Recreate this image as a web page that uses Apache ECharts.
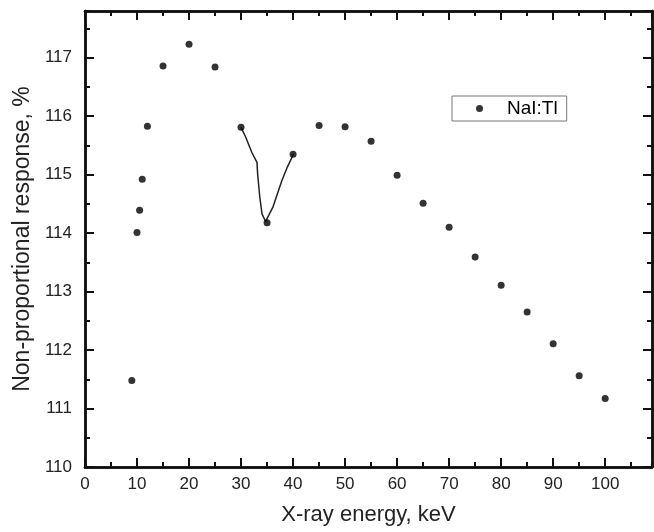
<!DOCTYPE html>
<html>
<head>
<meta charset="utf-8">
<script src="https://cdn.jsdelivr.net/npm/echarts@6/dist/echarts.min.js"></script>
<style>
  html, body { margin: 0; padding: 0; background: #fff; }
  #chart { width: 654px; height: 532px; }
</style>
</head>
<body>
<div id="chart"></div>
<script>
// measured points (keV, %)
const energy = [9, 10, 10.5, 11, 12, 15, 20, 25, 30, 35, 40, 45, 50, 55, 60, 65, 70, 75, 80, 85, 90, 95, 100];
const response = [111.48, 114.01, 114.39, 114.92, 115.83, 116.86, 117.23, 116.84, 115.81, 114.18, 115.35,
  115.84, 115.82, 115.57, 114.99, 114.51, 114.10, 113.59, 113.11, 112.65, 112.11, 111.56, 111.17];

// fine curve around the K-edge
const edgeX = [30, 30.9, 32.08, 33.06, 33.19, 33.61, 34.03, 34.72, 35.07, 36.1, 37.85, 38.9, 40.07];
const edgeY = [115.81, 115.64, 115.38, 115.21, 115.01, 114.61, 114.33, 114.2, 114.22, 114.44, 114.9, 115.13, 115.35];

const xMin = 0, xMax = 109;
const yMin = 110, yMax = 117.8;

const font = 'Liberation Sans, Arial, sans-serif';
const ink = '#111';

function xAxisSide(pos, interval, len, withLabels) {
  return {
    type: 'value', position: pos, min: xMin, max: xMax, interval: interval,
    axisLine: { show: true, onZero: false, lineStyle: { color: ink, width: 2.5 } },
    axisTick: { show: true, inside: true, length: len, lineStyle: { color: ink, width: 2 } },
    axisLabel: { show: withLabels, showMaxLabel: false, margin: 9, fontSize: 17, color: '#222', fontFamily: font },
    splitLine: { show: false },
    name: withLabels ? 'X-ray energy, keV' : '',
    nameLocation: 'middle', nameGap: 37,
    nameTextStyle: { fontSize: 22, color: '#222', fontFamily: font }
  };
}

function yAxisSide(pos, interval, len, withLabels) {
  return {
    type: 'value', position: pos, min: yMin, max: yMax, interval: interval,
    axisLine: { show: true, onZero: false, lineStyle: { color: ink, width: 2.5 } },
    axisTick: { show: true, inside: true, length: len, lineStyle: { color: ink, width: 2 } },
    axisLabel: { show: withLabels, showMaxLabel: false, margin: 13, fontSize: 17, color: '#222', fontFamily: font },
    splitLine: { show: false },
    name: withLabels ? 'Non-proportional response, %' : '',
    nameLocation: 'middle', nameGap: 50,
    nameTextStyle: { fontSize: 23, color: '#222', fontFamily: font }
  };
}

const chart = echarts.init(document.getElementById('chart'));
chart.setOption({
  animation: false,
  backgroundColor: '#fff',
  grid: { left: 85, right: 2, top: 11, bottom: 65 },
  xAxis: [
    xAxisSide('bottom', 10, 9, true),
    xAxisSide('bottom', 5, 5, false),
    xAxisSide('top', 10, 9, false),
    xAxisSide('top', 5, 5, false)
  ],
  yAxis: [
    yAxisSide('left', 1, 9, true),
    yAxisSide('left', 0.5, 5, false),
    yAxisSide('right', 1, 9, false),
    yAxisSide('right', 0.5, 5, false)
  ],
  legend: {
    left: 452, top: 96,
    padding: [3, 9, 3, 24],
    borderColor: '#777', borderWidth: 1,
    itemWidth: 7, itemHeight: 7,
    textStyle: { fontSize: 19, color: '#000', fontFamily: font, padding: [0, 0, 0, 19] },
    data: [{ name: 'NaI:Tl', icon: 'circle' }]
  },
  series: [
    {
      name: 'edge', type: 'line',
      data: edgeX.map((x, i) => [x, edgeY[i]]),
      showSymbol: false, smooth: false,
      lineStyle: { color: '#222', width: 1.5 },
      z: 2
    },
    {
      name: 'NaI:Tl', type: 'scatter',
      data: energy.map((x, i) => [x, response[i]]),
      symbol: 'circle', symbolSize: 7,
      itemStyle: { color: '#000' },
      z: 3
    }
  ]
});
</script>
</body>
</html>
